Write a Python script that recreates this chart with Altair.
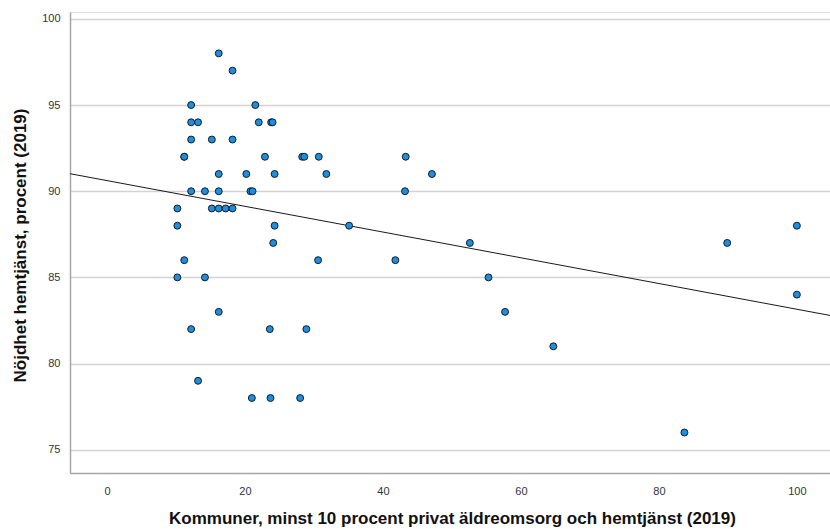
import altair as alt
import pandas as pd

# Share of private elderly care / home care (%) per municipality
x_vals = [16.2, 18.2, 12.2, 21.5, 12.2, 13.2, 22.0, 23.8, 24.0,
          12.2, 15.2, 18.2, 11.2, 11.2, 22.9, 28.3, 28.6, 30.7, 43.3,
          16.2, 20.2, 24.3, 31.8, 47.1,
          12.2, 14.2, 16.2, 20.8, 21.1, 43.2,
          10.2, 15.2, 16.2, 17.2, 18.2,
          10.2, 24.3, 35.1,
          24.1, 52.6, 89.9,
          11.2, 30.6, 41.8,
          10.2, 14.2, 55.3,
          16.2, 57.7,
          12.2, 23.6, 28.9,
          64.7, 83.7,
          13.2,
          21.0, 23.7, 28.0,
          100.0, 100.0]
# Satisfaction with home care (%)
y_vals = [98, 97, 95, 95, 94, 94, 94, 94, 94,
          93, 93, 93, 92, 92, 92, 92, 92, 92, 92,
          91, 91, 91, 91, 91,
          90, 90, 90, 90, 90, 90,
          89, 89, 89, 89, 89,
          88, 88, 88,
          87, 87, 87,
          86, 86, 86,
          85, 85, 85,
          83, 83,
          82, 82, 82,
          81, 76,
          79,
          78, 78, 78,
          88, 84]

x_domain = [-5.36, 104.8]
y_domain = [73.65, 100.4]
x_ticks = [0, 20, 40, 60, 80, 100]
y_ticks = [75, 80, 85, 90, 95, 100]

x_title = "Kommuner, minst 10 procent privat äldreomsorg och hemtjänst (2019)"
y_title = "Nöjdhet hemtjänst, procent (2019)"

df = pd.DataFrame({"x": x_vals, "y": y_vals})

W, H = 760, 461

x_enc = alt.X("x:Q",
              scale=alt.Scale(domain=x_domain, nice=False, zero=False),
              axis=alt.Axis(values=x_ticks, title=x_title, grid=False, ticks=False,
                            domainColor="#a6a6a6", domainWidth=1.5,
                            labelFont="Liberation Sans", labelFontSize=11, labelColor="#333333",
                            labelPadding=12,
                            titleFont="Liberation Sans", titleFontSize=17, titleFontWeight="bold",
                            titleColor="#111111", titleX=382, titleY=50,
                            titleBaseline="alphabetic", titleAnchor="middle", titleAlign="center"))
y_enc = alt.Y("y:Q",
              scale=alt.Scale(domain=y_domain, nice=False, zero=False),
              axis=alt.Axis(values=y_ticks, title=y_title, grid=True, gridColor="#d3d3d3",
                            gridWidth=1.5, ticks=False,
                            domainColor="#a6a6a6", domainWidth=1.5,
                            labelFont="Liberation Sans", labelFontSize=11, labelColor="#333333",
                            labelPadding=10,
                            titleFont="Liberation Sans", titleFontSize=17, titleFontWeight="bold",
                            titleColor="#111111", titleX=-50, titleY=233, titleAngle=-90,
                            titleBaseline="middle", titleAlign="center"))

points = alt.Chart(df).mark_point(
    shape="circle", filled=True, fill="#1a8fe3", stroke="#1a1a1a",
    strokeWidth=1, size=48, opacity=1
).encode(x=x_enc, y=y_enc)

fit = alt.Chart(df).transform_regression(
    "x", "y", extent=x_domain
).mark_line(color="#1a1a1a", strokeWidth=1, clip=True).encode(
    x=alt.X("x:Q", scale=alt.Scale(domain=x_domain, nice=False, zero=False)),
    y=alt.Y("y:Q", scale=alt.Scale(domain=y_domain, nice=False, zero=False)),
)

chart = alt.layer(fit, points).properties(
    width=W, height=H,
    autosize=alt.AutoSizeParams(type="none"),
    padding={"left": 70, "top": 12, "right": 0, "bottom": 56},
).configure_view(stroke=None).configure(background="white")

chart.save("out.html", embed_options={"renderer": "svg", "actions": False})
